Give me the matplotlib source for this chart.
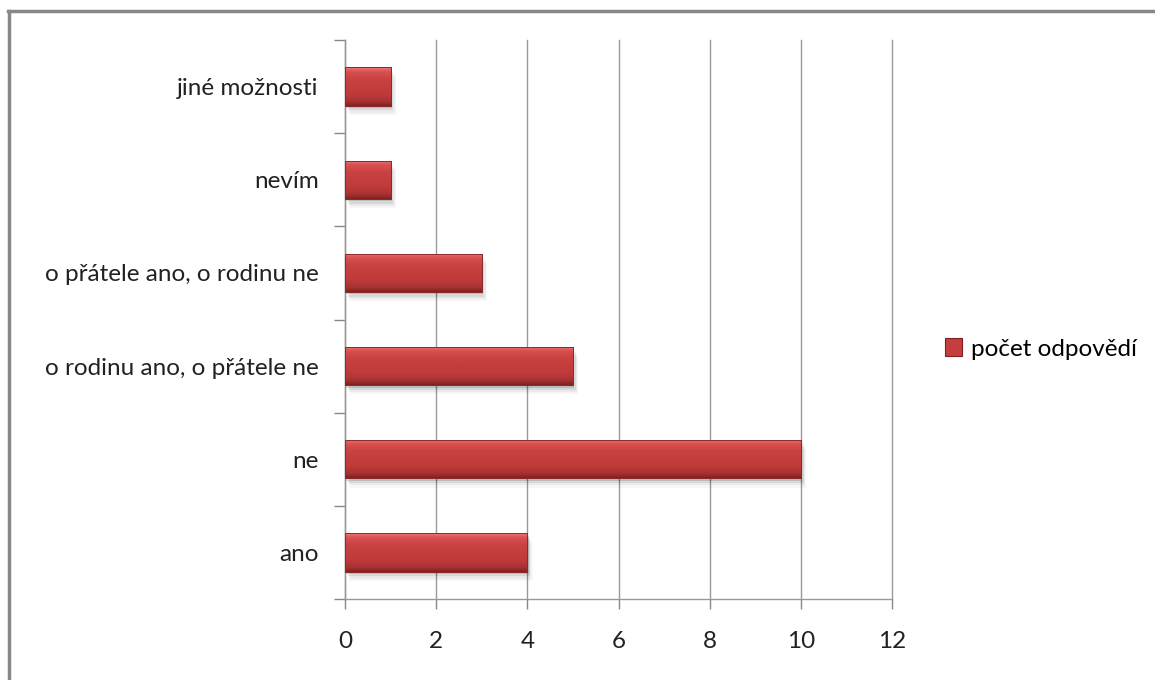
import matplotlib
matplotlib.use("Agg")
import matplotlib.pyplot as plt
import numpy as np
from matplotlib.patches import Rectangle
from matplotlib.colors import LinearSegmentedColormap
from matplotlib.lines import Line2D

categories = ["ano", "ne", "o rodinu ano, o přátele ne", "o přátele ano, o rodinu ne", "nevím", "jiné možnosti"]
values = [4, 10, 5, 3, 1, 1]
series_name = "počet odpovědí"
xticks = [0, 2, 4, 6, 8, 10, 12]

plt.rcParams['font.family'] = ['Lato', 'DejaVu Sans']

W, H = 1155, 680
fig = plt.figure(figsize=(W / 100, H / 100), dpi=100)
ax = fig.add_axes([345 / W, (H - 599) / H, (892 - 345) / W, (599 - 40) / H])

y = np.arange(len(categories))
bh = 0.41
bars = ax.barh(y, values, height=bh, color="#C53D3E", edgecolor="#8E2628", linewidth=0.6, zorder=3)

cmap = LinearSegmentedColormap.from_list(
    "red", [(0.0, "#EE7878"), (0.12, "#D85050"), (0.3, "#CA4242"), (0.7, "#BF3A3A"),
            (0.88, "#A83232"), (1.0, "#7E2222")])
grad = np.linspace(0, 1, 200).reshape(-1, 1)
for b in bars:
    x0, y0 = b.get_x(), b.get_y()
    w, h = b.get_width(), b.get_height()
    for k, a in enumerate([0.12, 0.08, 0.05, 0.03]):
        sh = Rectangle((x0 + 0.03 * (k + 1), y0 - 0.025 * (k + 1)), w, h, facecolor="#000000",
                       alpha=a, edgecolor="none", zorder=2)
        ax.add_patch(sh)
    im = ax.imshow(grad, extent=(x0, x0 + w, y0, y0 + h), origin="upper", cmap=cmap,
                   aspect="auto", zorder=3.5, interpolation="bilinear")
    im.set_clip_path(b)
    edge = Rectangle((x0, y0), w, h, facecolor="none", edgecolor="#8A2A2A", linewidth=0.7, zorder=4)
    ax.add_patch(edge)

ax.set_xlim(0, 12)
ax.set_ylim(-0.5, len(categories) - 0.5)
ax.set_xticks(xticks)
ax.set_xticklabels([str(t) for t in xticks])
ax.set_yticks(y)
ax.set_yticklabels(categories)
ax.tick_params(axis="y", length=0, pad=19, labelsize=17.5, labelcolor="#222222")
ax.tick_params(axis="x", length=7, width=1, color="#888888", pad=16, labelsize=17.5, labelcolor="#222222")
ax.set_yticks(np.arange(-0.5, len(categories), 1), minor=True)
ax.tick_params(axis="y", which="minor", length=8, width=1, color="#888888")
ax.grid(axis="x", color="#999999", linewidth=1, zorder=0)
for gl in ax.get_xgridlines():
    gl.set_clip_on(False)
ax.set_axisbelow(True)
for s in ["top", "right"]:
    ax.spines[s].set_visible(False)
ax.spines["left"].set_color("#999999")
ax.spines["bottom"].set_color("#999999")
ax.spines["left"].set_linewidth(1)
ax.spines["bottom"].set_linewidth(1)

# legend
handle = Rectangle((0, 0), 1, 1, facecolor="#C53D3E", edgecolor="#7F2020", linewidth=0.8)
fig.legend([handle], [series_name], loc="center left", bbox_to_anchor=(945 / W, 1 - 349 / H),
           frameon=False, fontsize=17.5, handlelength=0.7, handleheight=0.7, handletextpad=0.35,
           borderpad=0, borderaxespad=0)

# outer border
fig.add_artist(Line2D([9 / W, 9 / W], [0, 1 - 11 / H], transform=fig.transFigure, color="#888888", linewidth=2.5))
fig.add_artist(Line2D([8 / W, 1], [1 - 11 / H, 1 - 11 / H], transform=fig.transFigure, color="#888888", linewidth=2.5))

fig.savefig("out.png", dpi=100, facecolor="white")
